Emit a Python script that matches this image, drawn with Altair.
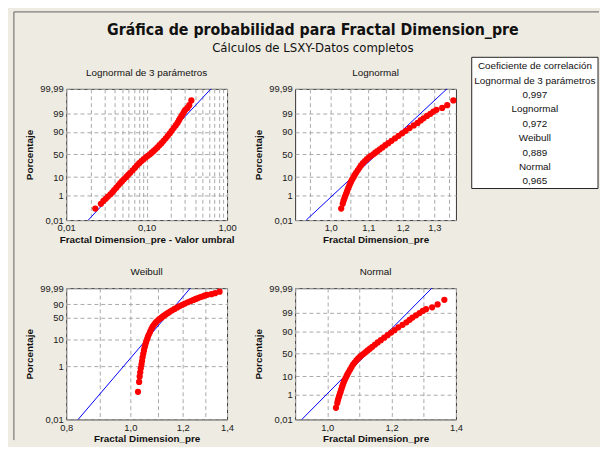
import math
from statistics import NormalDist

import altair as alt
import pandas as pd

# ---------------- data ----------------
# Sorted sample of Fractal Dimension_pre (representative points along the plotted curve)
frac_values = [
    1.027, 1.031, 1.033, 1.035, 1.037, 1.0395, 1.0415, 1.0435, 1.046, 1.0485,
    1.051, 1.0535, 1.0565, 1.060, 1.063, 1.0665, 1.071, 1.0755, 1.080, 1.085,
    1.0905, 1.096, 1.102, 1.1075, 1.114, 1.1195, 1.1255, 1.1325, 1.140, 1.1485,
    1.157, 1.1665, 1.177, 1.1875, 1.1985, 1.209, 1.221, 1.234, 1.246, 1.256,
    1.265, 1.276, 1.287, 1.297, 1.307, 1.326, 1.343, 1.364,
]
# Plotting position (%) of each of those points
frac_percents = [
    0.11, 0.26, 0.42, 0.60, 0.85, 1.2, 1.6, 2.2, 3.0, 4.0,
    5.2, 6.5, 8.2, 10.2, 12.5, 15.0, 18.5, 22.5, 27.0, 31.0,
    35.5, 39.5, 43.5, 47.0, 50.5, 54.0, 57.5, 61.5, 65.5, 70.0,
    74.0, 78.0, 82.0, 85.5, 88.5, 91.0, 93.3, 95.0, 96.3, 97.3,
    98.0, 98.55, 98.95, 99.25, 99.43, 99.58, 99.74, 99.89,
]
threshold = 1.004  # 3-parameter lognormal threshold ("Valor umbral")

# Fitted distribution lines: x at 0.01 % and at 99.99 %
fit_pct = [0.01, 99.99]
fit_ln3_x = [0.0188, 0.63]
fit_ln_x = [0.940, 1.342]
fit_wb_x = [0.834, 1.232]
fit_n_x = [0.921, 1.325]

corr_names = ["Lognormal de 3 parámetros", "Lognormal", "Weibull", "Normal"]
corr_vals = ["0,997", "0,972", "0,889", "0,965"]

pct_ticks = [0.01, 1, 10, 50, 90, 99, 99.99]
pct_labels = ["0,01", "1", "10", "50", "90", "99", "99,99"]
wb_pct_ticks = [0.01, 1, 10, 50, 90, 99.99]
wb_pct_labels = ["0,01", "1", "10", "50", "90", "99,99"]

# ---------------- helpers ----------------
FONT = "Liberation Sans"
TFONT = "DejaVu Sans Condensed"
W, H = 163, 133
GRID_COLOR = "#A9A9A9"
GRID_DASH = [4, 3]
nd = NormalDist()


def probit(p):
    return nd.inv_cdf(p / 100.0)


def weib(p):
    return math.log(-math.log(1.0 - p / 100.0))


def ylab_expr(zs, labels):
    expr = "''"
    for z, l in zip(reversed(zs), reversed(labels)):
        expr = f"(abs(datum.value - ({z:.6f})) < 0.001 ? '{l}' : {expr})"
    return expr


def xlab_expr(shown, fmt):
    cond = " || ".join(f"abs(datum.value - {v}) < 1e-9" for v in shown)
    return f"({cond}) ? replace(format(datum.value, '{fmt}'), '.', ',') : ''"


def text_layer(txt, x, y, size=10, weight="normal", align="center", font=FONT):
    return (
        alt.Chart(pd.DataFrame({"t": [txt]}))
        .mark_text(font=font, fontSize=size, fontWeight=weight, align=align,
                   baseline="middle", color="#111111")
        .encode(x=alt.value(x), y=alt.value(y), text="t:N")
    )


def panel(px, pp, fx, fp, ytf, xscale, xvals, xshown, xfmt, xtitle,
          yticks_pct, ylabels, title, extras=()):
    ydom = [ytf(0.01), ytf(99.99)]
    yz = [ytf(p) for p in yticks_pct]
    yscale = alt.Scale(domain=ydom, nice=False, zero=False)
    xax = alt.Axis(values=xvals, labelExpr=xlab_expr(xshown, xfmt), title=xtitle,
                   titleX=W / 2, titleY=19.5, titleBaseline="middle",
                   labelPadding=3, labelFlush=False)
    yax = alt.Axis(values=yz, labelExpr=ylab_expr(yz, ylabels), title="Porcentaje",
                   titleX=-37, titleY=H / 2, titleAngle=270, titleBaseline="middle",
                   titleAlign="center", labelPadding=3)
    fit_df = pd.DataFrame({"x": fx, "y": [ytf(p) for p in fp]})
    pts_df = pd.DataFrame({"x": px, "y": [ytf(p) for p in pp]})
    enc = dict(
        x=alt.X("x:Q", scale=xscale, axis=xax, title=xtitle),
        y=alt.Y("y:Q", scale=yscale, axis=yax, title="Porcentaje"),
    )
    line = alt.Chart(fit_df).mark_line(color="#0000FF", strokeWidth=1).encode(**enc)
    pts = alt.Chart(pts_df).mark_circle(size=40, color="#FF0000", opacity=1).encode(**enc)
    ttl = text_layer(title, W / 2, -16, size=10)
    return alt.layer(line, pts, ttl, *extras).properties(width=W, height=H)


# ---------------- panel 1: 3-parameter lognormal ----------------
shifted = [round(v - threshold, 4) for v in frac_values]
ln3_grid = [0.01, 0.02, 0.03, 0.04, 0.05, 0.06, 0.07, 0.08, 0.09,
            0.1, 0.2, 0.3, 0.4, 0.5, 0.6, 0.7, 0.8, 0.9, 1.0]

frame_color = "#5E5E5E"
frame_left = alt.Chart(pd.DataFrame({"a": [0]})).mark_rule(color=frame_color, strokeWidth=1).encode(
    x=alt.value(-53), y=alt.value(-78), y2=alt.value(356))
frame_top = alt.Chart(pd.DataFrame({"a": [0]})).mark_rule(color=frame_color, strokeWidth=1).encode(
    x=alt.value(-53), x2=alt.value(540), y=alt.value(-78))
main_title = text_layer("Gráfica de probabilidad para Fractal Dimension_pre", 250, -60,
                        size=16, weight="bold", font=TFONT)
sub_title = text_layer("Cálculos de LSXY-Datos completos", 250, -41, size=13.2, font=TFONT)

p1 = panel(shifted, frac_percents, fit_ln3_x, fit_pct, probit,
           alt.Scale(type="log", domain=[0.01, 1.0], nice=False),
           ln3_grid, [0.01, 0.1, 1.0], ".2f", "Fractal Dimension_pre - Valor umbral",
           pct_ticks, pct_labels, "Lognormal de 3 parámetros",
           extras=(frame_left, frame_top, main_title, sub_title))

# ---------------- panel 2: lognormal + correlation box ----------------
box = alt.Chart(pd.DataFrame({"a": [0]})).mark_rect(fill="white", stroke="#222222", strokeWidth=1).encode(
    x=alt.value(179), x2=alt.value(307), y=alt.value(-32), y2=alt.value(101))
box_lines = ["Coeficiente de correlación"]
for n, v in zip(corr_names, corr_vals):
    box_lines += [n, v]
box_texts = [text_layer(t, 243, -23 + i * 14.6, size=10) for i, t in enumerate(box_lines)]

p2 = panel(frac_values, frac_percents, fit_ln_x, fit_pct, probit,
           alt.Scale(type="log", domain=[0.914, 1.373], nice=False, zero=False),
           [0.95, 1.0, 1.05, 1.1, 1.15, 1.2, 1.25, 1.3, 1.35], [1.0, 1.1, 1.2, 1.3], ".1f",
           "Fractal Dimension_pre", pct_ticks, pct_labels, "Lognormal",
           extras=(box, *box_texts))

# ---------------- panel 3: Weibull ----------------
p3 = panel(frac_values, frac_percents, fit_wb_x, fit_pct, weib,
           alt.Scale(type="log", domain=[0.8, 1.4], nice=False, zero=False),
           [0.8, 0.9, 1.0, 1.1, 1.2, 1.3, 1.4], [0.8, 1.0, 1.2, 1.4], ".1f",
           "Fractal Dimension_pre", wb_pct_ticks, wb_pct_labels, "Weibull")

# ---------------- panel 4: Normal ----------------
p4 = panel(frac_values, frac_percents, fit_n_x, fit_pct, probit,
           alt.Scale(domain=[0.9, 1.4], nice=False, zero=False),
           [0.9, 1.0, 1.1, 1.2, 1.3, 1.4], [1.0, 1.2, 1.4], ".1f",
           "Fractal Dimension_pre", pct_ticks, pct_labels, "Normal")

chart = (
    alt.concat(p1, p2, p3, p4, columns=2, spacing=69, bounds="flush")
    .properties(background="#EEEBE2", padding={"left": 5, "top": 0, "right": 0, "bottom": 0})
    .configure_view(fill="white", stroke="#333333", strokeWidth=1)
    .configure_axis(
        labelFont=FONT, labelFontSize=9.5, labelColor="#1A1A1A",
        titleFont=FONT, titleFontSize=10, titleFontWeight="bold", titleColor="#111111",
        grid=True, gridColor=GRID_COLOR, gridDash=GRID_DASH, gridWidth=1,
        domain=False, ticks=False,
    )
)

chart.save("out.html", embed_options={"renderer": "svg", "actions": False})
